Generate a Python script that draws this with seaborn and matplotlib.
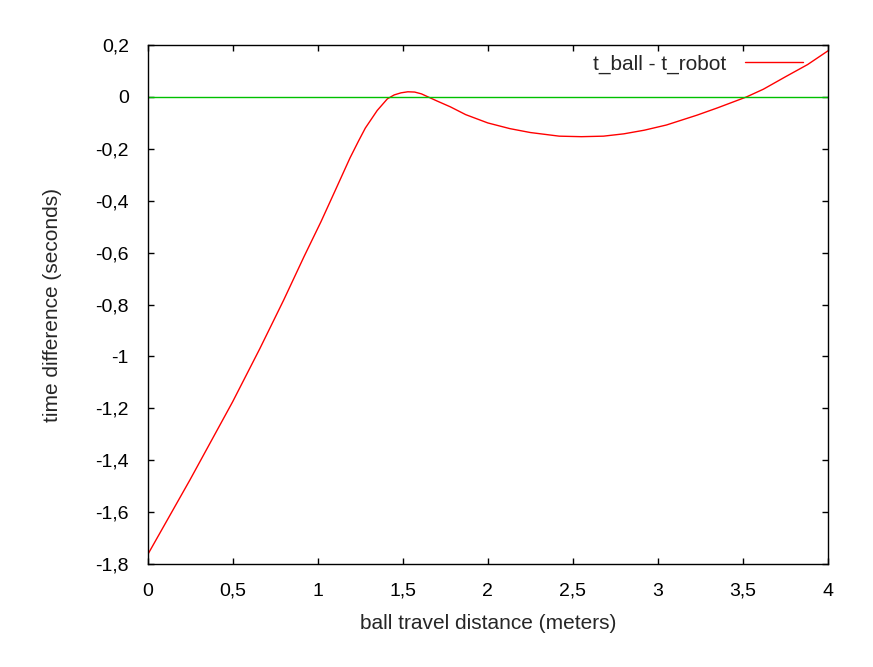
import matplotlib
matplotlib.use('Agg')
import matplotlib.pyplot as plt
import seaborn as sns
import pandas as pd
from matplotlib.ticker import FuncFormatter

# values
distance = [0.0, 0.25, 0.5, 0.66, 0.8, 0.92, 1.02, 1.1, 1.19, 1.24, 1.28, 1.35, 1.41, 1.45,
            1.49, 1.53, 1.57, 1.61, 1.64, 1.7, 1.78, 1.87, 2.0, 2.13, 2.25, 2.42, 2.55, 2.68,
            2.8, 2.92, 3.05, 3.23, 3.35, 3.52, 3.62, 3.75, 3.88, 4.0]
time_diff = [-1.765, -1.475, -1.175, -0.97, -0.783, -0.615, -0.48, -0.365, -0.235, -0.17,
             -0.12, -0.052, -0.007, 0.008, 0.016, 0.02, 0.019, 0.012, 0.003, -0.015, -0.038,
             -0.068, -0.10, -0.122, -0.137, -0.151, -0.153, -0.151, -0.142, -0.128, -0.108,
             -0.07, -0.042, 0.0, 0.03, 0.078, 0.125, 0.178]
zero_x = [0.0, 4.0]
zero_y = [0.0, 0.0]

df = pd.DataFrame({'x': distance, 'y': time_diff})
zero = pd.DataFrame({'x': zero_x, 'y': zero_y})

sns.set_theme(style='ticks')
plt.rcParams['font.family'] = ['Liberation Sans', 'DejaVu Sans']

fig = plt.figure(figsize=(8.73, 6.67), dpi=100)
ax = fig.add_axes([0.169, 0.1544, 0.7795, 0.778])

sns.lineplot(data=df, x='x', y='y', color='#ff0000', linewidth=1.0, ax=ax,
             label='t_ball - t_robot', sort=False)
sns.lineplot(data=zero, x='x', y='y', color='#00c000', linewidth=1.0, ax=ax)

ax.set_xlim(0, 4)
ax.set_ylim(-1.8, 0.2)
ax.set_xticks([0, 0.5, 1, 1.5, 2, 2.5, 3, 3.5, 4])
ax.set_yticks([0.2, 0, -0.2, -0.4, -0.6, -0.8, -1, -1.2, -1.4, -1.6, -1.8])

def comma(v, pos):
    s = ('%.1f' % v).rstrip('0').rstrip('.')
    if s == '-0':
        s = '0'
    return s.replace('.', ',')

ax.xaxis.set_major_formatter(FuncFormatter(comma))
ax.yaxis.set_major_formatter(FuncFormatter(comma))
ax.tick_params(direction='in', length=4.5, width=1, top=True, right=True,
               labelsize=14, colors='black', pad=13.5)
for s in ax.spines.values():
    s.set_linewidth(1.0)
    s.set_color('black')

ax.set_xlabel('ball travel distance (meters)', fontsize=15)
ax.set_ylabel('time difference (seconds)', fontsize=15)
ax.xaxis.set_label_coords(0.5, -0.097)
ax.yaxis.set_label_coords(-0.126, 0.5)

leg = ax.legend(loc='upper right', bbox_to_anchor=(0.9633, 0.982), frameon=False,
                markerfirst=False, fontsize=15, handlelength=2.8, handletextpad=0.87,
                borderaxespad=0, borderpad=0)

fig.savefig('out.png', dpi=100)
